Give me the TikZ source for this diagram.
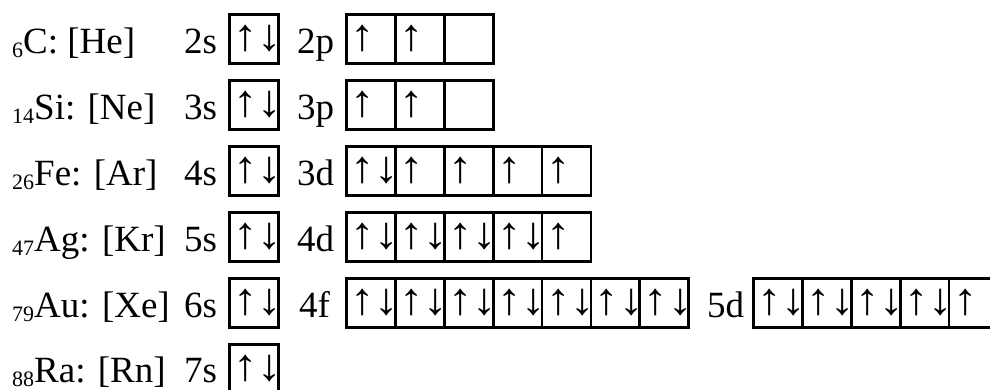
\documentclass[tikz,border=0pt]{standalone}
\usepackage{fontspec}
\setmainfont{Liberation Serif}
\newcommand\zsub[1]{\raisebox{-4pt}{\fontsize{22}{22}\selectfont #1}}
\newcommand\zup{\scalebox{1.35}[1.25]{↑}}
\newcommand\zdn{\scalebox{1.35}[1.25]{↓}}
\begin{document}
\begin{tikzpicture}[x=1pt,y=-1pt,
  lbl/.style={anchor=base west, inner sep=0pt, font=\fontsize{37}{37}\selectfont, text=black},
  orb/.style={draw=black, line width=2.8pt, anchor=north west, minimum width=48.9pt,
    minimum height=49pt, inner xsep=4pt, inner ysep=0pt, text width=40.9pt, align=left,
    font=\fontsize{36}{36}\selectfont}
]
\clip (0,0) rectangle (990,389);
\fill[white] (0,0) rectangle (990,389);
% Row 0: C
\node[lbl] (C) at (12,53) {\zsub{6}C: [He]};
\node[lbl] (C2s) at (184,53) {2s};
\node[orb] (C2sb) at (228,13) {\zup\zdn};
\node[lbl] (C2p) at (297,53) {2p};
\foreach \t [count=\k from 0] in {\zup,\zup,{}}
  \node[orb] (C2pb\k) at (345+48.9*\k,13) {\t};
% Row 1: Si
\node[lbl] (Si) at (12,119) {\zsub{14}Si: [Ne]};
\node[lbl] (Si3s) at (184,119) {3s};
\node[orb] (Si3sb) at (228,79) {\zup\zdn};
\node[lbl] (Si3p) at (297,119) {3p};
\foreach \t [count=\k from 0] in {\zup,\zup,{}}
  \node[orb] (Si3pb\k) at (345+48.9*\k,79) {\t};
% Row 2: Fe
\node[lbl] (Fe) at (12,185) {\zsub{26}Fe: [Ar]};
\node[lbl] (Fe4s) at (184,185) {4s};
\node[orb] (Fe4sb) at (228,145) {\zup\zdn};
\node[lbl] (Fe3d) at (297,185) {3d};
\foreach \t [count=\k from 0] in {\zup\zdn,\zup,\zup,\zup,\zup}
  \node[orb] (Fe3db\k) at (345+48.9*\k,145) {\t};
% Row 3: Ag
\node[lbl] (Ag) at (12,251) {\zsub{47}Ag: [Kr]};
\node[lbl] (Ag5s) at (184,251) {5s};
\node[orb] (Ag5sb) at (228,211) {\zup\zdn};
\node[lbl] (Ag4d) at (297,251) {4d};
\foreach \t [count=\k from 0] in {\zup\zdn,\zup\zdn,\zup\zdn,\zup\zdn,\zup}
  \node[orb] (Ag4db\k) at (345+48.9*\k,211) {\t};
% Row 4: Au
\node[lbl] (Au) at (12,317) {\zsub{79}Au: [Xe]};
\node[lbl] (Au6s) at (184,317) {6s};
\node[orb] (Au6sb) at (228,277) {\zup\zdn};
\node[lbl] (Au4f) at (299,317) {4f};
\foreach \t [count=\k from 0] in {\zup\zdn,\zup\zdn,\zup\zdn,\zup\zdn,\zup\zdn,\zup\zdn,\zup\zdn}
  \node[orb] (Au4fb\k) at (345+48.9*\k,277) {\t};
\node[lbl] (Au5d) at (707,317) {5d};
\foreach \t [count=\k from 0] in {\zup\zdn,\zup\zdn,\zup\zdn,\zup\zdn,\zup}
  \node[orb] (Au5db\k) at (752+48.9*\k,277) {\t};
% Row 5: Ra
\node[lbl] (Ra) at (12,382) {\zsub{88}Ra: [Rn]};
\node[lbl] (Ra7s) at (184,382) {7s};
\node[orb] (Ra7sb) at (228,343) {\zup\zdn};
\end{tikzpicture}
\end{document}
